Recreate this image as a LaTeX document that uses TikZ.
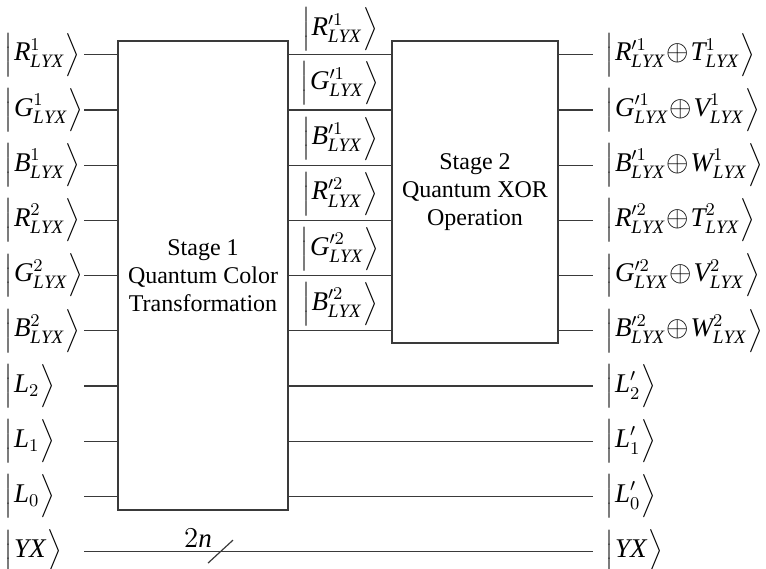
\documentclass[tikz,border=0pt]{standalone}
\usepackage{amsmath}
\usepackage{fontspec}
\setmainfont{Liberation Serif}
\usetikzlibrary{positioning}
\definecolor{wiregrey}{HTML}{3A3A3A}
\newcommand{\qdl}{\mbox{\fontsize{12}{14}\selectfont\nulldelimiterspace=0pt
  $\left|\vcenter{\hbox{\vrule height 20pt depth 0pt width 0pt}}\right.$}}
\newcommand{\qdr}{\mbox{\fontsize{12}{14}\selectfont\nulldelimiterspace=0pt
  $\left.\vcenter{\hbox{\vrule height 20pt depth 0pt width 0pt}}\right\rangle$}}
\newcommand{\qket}[1]{$\qdl\mkern1mu#1\mkern1mu\qdr$}
\newcommand{\qv}[2]{\mathit{#1}^{#2}_{\mathit{LYX}}}
\newcommand{\qx}{\mathbin{\!\oplus\!}}

\begin{document}
\begin{tikzpicture}[x=0.5pt, y=-0.5pt,
  gate/.style={draw=wiregrey, line width=0.6pt, align=center,
    font=\fontsize{12}{14}\selectfont, inner sep=0pt},
  ket/.style={inner sep=0pt, font=\fontsize{13.5}{16}\selectfont},
  wire/.style={draw=wiregrey, line width=0.6pt}]
  \useasboundingbox (0,0) rectangle (766,568);
  \node[gate, minimum width=85pt, minimum height=234.5pt] (stage1) at (203,275.5)
    {Stage 1\\Quantum Color\\Transformation};
  \node[gate, minimum width=83pt, minimum height=151pt] (stage2) at (475,192)
    {Stage 2\\Quantum XOR\\Operation};
  \foreach \k in {0,...,9} {
    \coordinate (w\k) at (84,{54.8+55.2*\k});
    \coordinate (o\k) at (593,{54.8+55.2*\k});
  }
  % inputs
  \node[ket, anchor=west] (inR1) at (4,54.8) {\qket{\qv{R}{1}}};
  \node[ket, anchor=west] (inG1) at (4,110) {\qket{\qv{G}{1}}};
  \node[ket, anchor=west] (inB1) at (4,165.2) {\qket{\qv{B}{1}}};
  \node[ket, anchor=west] (inR2) at (4,220.4) {\qket{\qv{R}{2}}};
  \node[ket, anchor=west] (inG2) at (4,275.6) {\qket{\qv{G}{2}}};
  \node[ket, anchor=west] (inB2) at (4,330.8) {\qket{\qv{B}{2}}};
  \node[ket, anchor=west] (inL2) at (4,386) {\qket{\mathit{L}_2}};
  \node[ket, anchor=west] (inL1) at (4,441.2) {\qket{\mathit{L}_1}};
  \node[ket, anchor=west] (inL0) at (4,496.4) {\qket{\mathit{L}_0}};
  \node[ket, anchor=west] (inYX) at (4,551.6) {\qket{\mathit{YX}}};
  % between the stages
  \node[ket] (midR1) at (340,29.5) {\qket{\qv{R}{\prime 1}}};
  \node[ket] (midG1) at (340,83.5) {\qket{\qv{G}{\prime 1}}};
  \node[ket] (midB1) at (340,138.7) {\qket{\qv{B}{\prime 1}}};
  \node[ket] (midR2) at (340,193.9) {\qket{\qv{R}{\prime 2}}};
  \node[ket] (midG2) at (340,249.1) {\qket{\qv{G}{\prime 2}}};
  \node[ket] (midB2) at (340,304.3) {\qket{\qv{B}{\prime 2}}};
  % outputs
  \node[ket, anchor=west] (outR1) at (605,54.8) {\qket{\qv{R}{\prime 1}\qx\qv{T}{1}}};
  \node[ket, anchor=west] (outG1) at (605,110) {\qket{\qv{G}{\prime 1}\qx\qv{V}{1}}};
  \node[ket, anchor=west] (outB1) at (605,165.2) {\qket{\qv{B}{\prime 1}\qx\qv{W}{1}}};
  \node[ket, anchor=west] (outR2) at (605,220.4) {\qket{\qv{R}{\prime 2}\qx\qv{T}{2}}};
  \node[ket, anchor=west] (outG2) at (605,275.6) {\qket{\qv{G}{\prime 2}\qx\qv{V}{2}}};
  \node[ket, anchor=west] (outB2) at (605,330.8) {\qket{\qv{B}{\prime 2}\qx\qv{W}{2}}};
  \node[ket, anchor=west] (outL2) at (605,386) {\qket{\mathit{L}'_2}};
  \node[ket, anchor=west] (outL1) at (605,441.2) {\qket{\mathit{L}'_1}};
  \node[ket, anchor=west] (outL0) at (605,496.4) {\qket{\mathit{L}'_0}};
  \node[ket, anchor=west] (outYX) at (605,551.6) {\qket{\mathit{YX}}};
  % wires
  \foreach \k in {0,...,8}
    \draw[wire] (w\k) -- (w\k -| stage1.west);
  \foreach \k in {0,...,5} {
    \draw[wire] (w\k -| stage1.east) -- (w\k -| stage2.west);
    \draw[wire] (w\k -| stage2.east) -- (o\k);
  }
  \foreach \k in {6,7,8}
    \draw[wire] (w\k -| stage1.east) -- (o\k);
  \draw[wire] (w9) -- (o9);
  \coordinate (bus) at (220.5,551.6);
  \draw[wire] ([shift={(-12.5,11.5)}]bus) -- ([shift={(12.5,-11.5)}]bus);
  \node[ket] (busw) at (198,538) {$2\mathit{n}$};
\end{tikzpicture}
\end{document}
